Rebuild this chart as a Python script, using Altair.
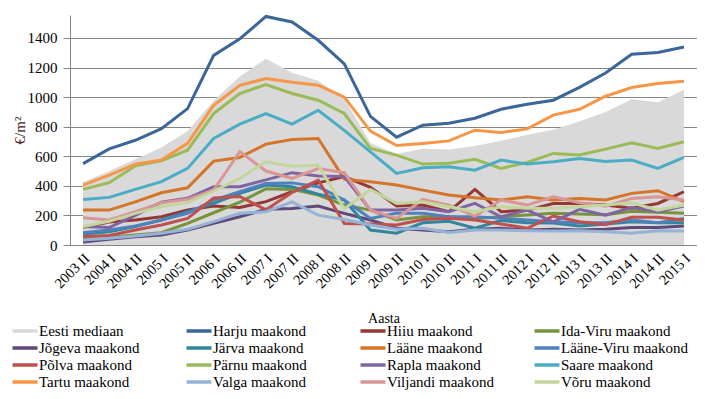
import altair as alt
import pandas as pd

periods = ["2003 II", "2004 I", "2004 II", "2005 I", "2005 II", "2006 I", "2006 II",
           "2007 I", "2007 II", "2008 I", "2008 II", "2009 I", "2009 II", "2010 I",
           "2010 II", "2011 I", "2011 II", "2012 I", "2012 II", "2013 I", "2013 II",
           "2014 I", "2014 II", "2015 I"]

names = ["Eesti mediaan", "Harju maakond", "Hiiu maakond", "Ida-Viru maakond",
         "Jõgeva maakond", "Järva maakond", "Lääne maakond", "Lääne-Viru maakond",
         "Põlva maakond", "Pärnu maakond", "Rapla maakond", "Saare maakond",
         "Tartu maakond", "Valga maakond", "Viljandi maakond", "Võru maakond"]

colors = ["#D9D9D9", "#3A6698", "#953735", "#77933C", "#5F497A", "#31859C", "#D5752A",
          "#4F81BD", "#C0504D", "#9BBB59", "#8064A2", "#4BACC6", "#F79646", "#95B3D7",
          "#D99694", "#C3D69B"]

mediaan = [425, 500, 580, 660, 770, 975, 1140, 1260, 1165, 1110, 990, 690, 615, 650, 645, 670, 705, 745, 780, 835, 900, 985, 965, 1050]
harju = [550, 650, 708, 787, 922, 1282, 1394, 1545, 1508, 1384, 1225, 870, 729, 810, 823, 857, 918, 952, 979, 1066, 1163, 1290, 1301, 1339]
hiiu = [120, 155, 169, 191, 236, 263, 254, 293, 360, 420, 463, 390, 263, 270, 225, 376, 225, 236, 281, 281, 270, 248, 281, 360]
ida_viru = [45, 52, 68, 83, 146, 218, 290, 380, 376, 338, 270, 236, 169, 191, 191, 180, 191, 203, 214, 210, 205, 228, 222, 214]
jogeva = [20, 38, 56, 68, 101, 146, 191, 241, 247, 263, 214, 169, 113, 101, 90, 106, 113, 101, 106, 101, 106, 119, 119, 128]
jarva = [74, 90, 124, 169, 225, 281, 349, 405, 394, 344, 304, 101, 80, 150, 160, 113, 165, 150, 148, 128, 142, 157, 150, 150]
laane = [236, 236, 292, 353, 387, 567, 592, 682, 713, 720, 445, 427, 405, 371, 338, 319, 304, 326, 304, 315, 304, 349, 367, 293]
laane_viru = [83, 101, 128, 169, 214, 304, 360, 416, 420, 394, 304, 180, 215, 214, 191, 191, 180, 169, 157, 150, 150, 169, 150, 180]
polva = [58, 65, 101, 135, 180, 318, 328, 238, 355, 439, 146, 142, 135, 173, 180, 169, 142, 113, 196, 157, 138, 187, 187, 169]
parnu = [376, 421, 535, 570, 641, 889, 1024, 1085, 1024, 979, 889, 653, 608, 547, 552, 579, 518, 558, 619, 608, 648, 691, 653, 698]
rapla = [125, 118, 200, 290, 316, 394, 394, 440, 489, 466, 463, 236, 236, 248, 225, 281, 191, 236, 157, 241, 202, 254, 225, 263]
saare = [308, 322, 376, 428, 518, 720, 817, 889, 817, 911, 775, 630, 484, 522, 529, 506, 574, 547, 563, 585, 565, 574, 518, 592]
tartu = [405, 473, 547, 574, 687, 945, 1080, 1125, 1100, 1080, 1000, 770, 673, 687, 704, 776, 761, 785, 878, 918, 1006, 1065, 1092, 1107]
valga = [34, 45, 61, 79, 106, 158, 214, 225, 292, 202, 173, 135, 106, 113, 85, 101, 101, 97, 95, 97, 90, 79, 97, 95]
viljandi = [184, 169, 225, 286, 309, 372, 632, 500, 450, 517, 490, 236, 180, 308, 270, 196, 304, 270, 326, 286, 263, 315, 326, 304]
voru = [125, 160, 214, 260, 285, 365, 450, 563, 533, 540, 245, 375, 281, 292, 259, 225, 259, 248, 248, 259, 270, 286, 236, 270]

y_ticks = [0, 200, 400, 600, 800, 1000, 1200, 1400]

series_values = [mediaan, harju, hiiu, ida_viru, jogeva, jarva, laane, laane_viru, polva,
                 parnu, rapla, saare, tartu, valga, viljandi, voru]

rows = []
for name, vals in zip(names, series_values):
    for p, v in zip(periods, vals):
        rows.append({"series": name, "period": p, "value": v})
df = pd.DataFrame(rows)

# legend is filled column by column (4 rows), so reorder to read row by row
n_cols = 4
n_rows = 4
legend_order = [names[r * n_cols + c] for c in range(n_cols) for r in range(n_rows)]
legend_colors = [colors[names.index(n)] for n in legend_order]

FONT = "Liberation Serif"

x_enc = alt.X(
    "period:O", sort=periods,
    scale=alt.Scale(type="point", padding=0.5),
    axis=alt.Axis(
        title="Aasta", labelAngle=-45, labelAlign="right", labelBaseline="middle",
        labelOffset=4, labelPadding=11, ticks=False, grid=False,
        domainColor="#868686", labelFont=FONT, labelFontSize=14.5, labelColor="#000000",
        titleFont=FONT, titleFontSize=14, titleFontWeight="normal", titleColor="#000000",
        titleY=73, titleBaseline="middle",
    ),
)
y_enc = alt.Y(
    "value:Q",
    scale=alt.Scale(domain=[0, 1555], nice=False),
    axis=alt.Axis(
        title="€/m²", values=y_ticks, format="d", grid=True, gridColor="#868686", gridWidth=1,
        domainColor="#868686", tickColor="#868686", tickSize=7, labelPadding=6,
        labelFont=FONT, labelFontSize=15, labelColor="#000000",
        titleFont=FONT, titleFontSize=15, titleFontWeight="normal", titleColor="#4a2020",
        titleX=-43, titleY=115, titleAngle=-90, titleAlign="center",
    ),
)
color_enc = alt.Color(
    "series:N",
    scale=alt.Scale(domain=legend_order, range=legend_colors),
    legend=alt.Legend(
        title=None, orient="none", legendX=-53, legendY=308, columns=n_cols,
        symbolType="M-2,0H2", symbolSize=156, symbolStrokeWidth=3.5,
        labelFont=FONT, labelFontSize=15, labelColor="#000000", labelOffset=6,
        rowPadding=1, columnPadding=13, gridAlign="all", padding=0,
    ),
)

base = alt.Chart(df)
area = base.transform_filter(alt.datum.series == "Eesti mediaan").mark_area(opacity=1).encode(
    x=x_enc, y=y_enc, color=color_enc)
lines = base.transform_filter(alt.datum.series != "Eesti mediaan").mark_line(
    strokeWidth=3).encode(x=x_enc, y=y_enc, color=color_enc)

chart = alt.layer(area, lines).properties(
    width=627, height=230,
    autosize=alt.AutoSizeParams(type="none"),
    padding={"left": 62, "top": 7, "right": 0, "bottom": 150},
    background="#ffffff",
).configure_view(strokeWidth=0)

chart.save("out.html", embed_options={"renderer": "svg", "actions": False})
